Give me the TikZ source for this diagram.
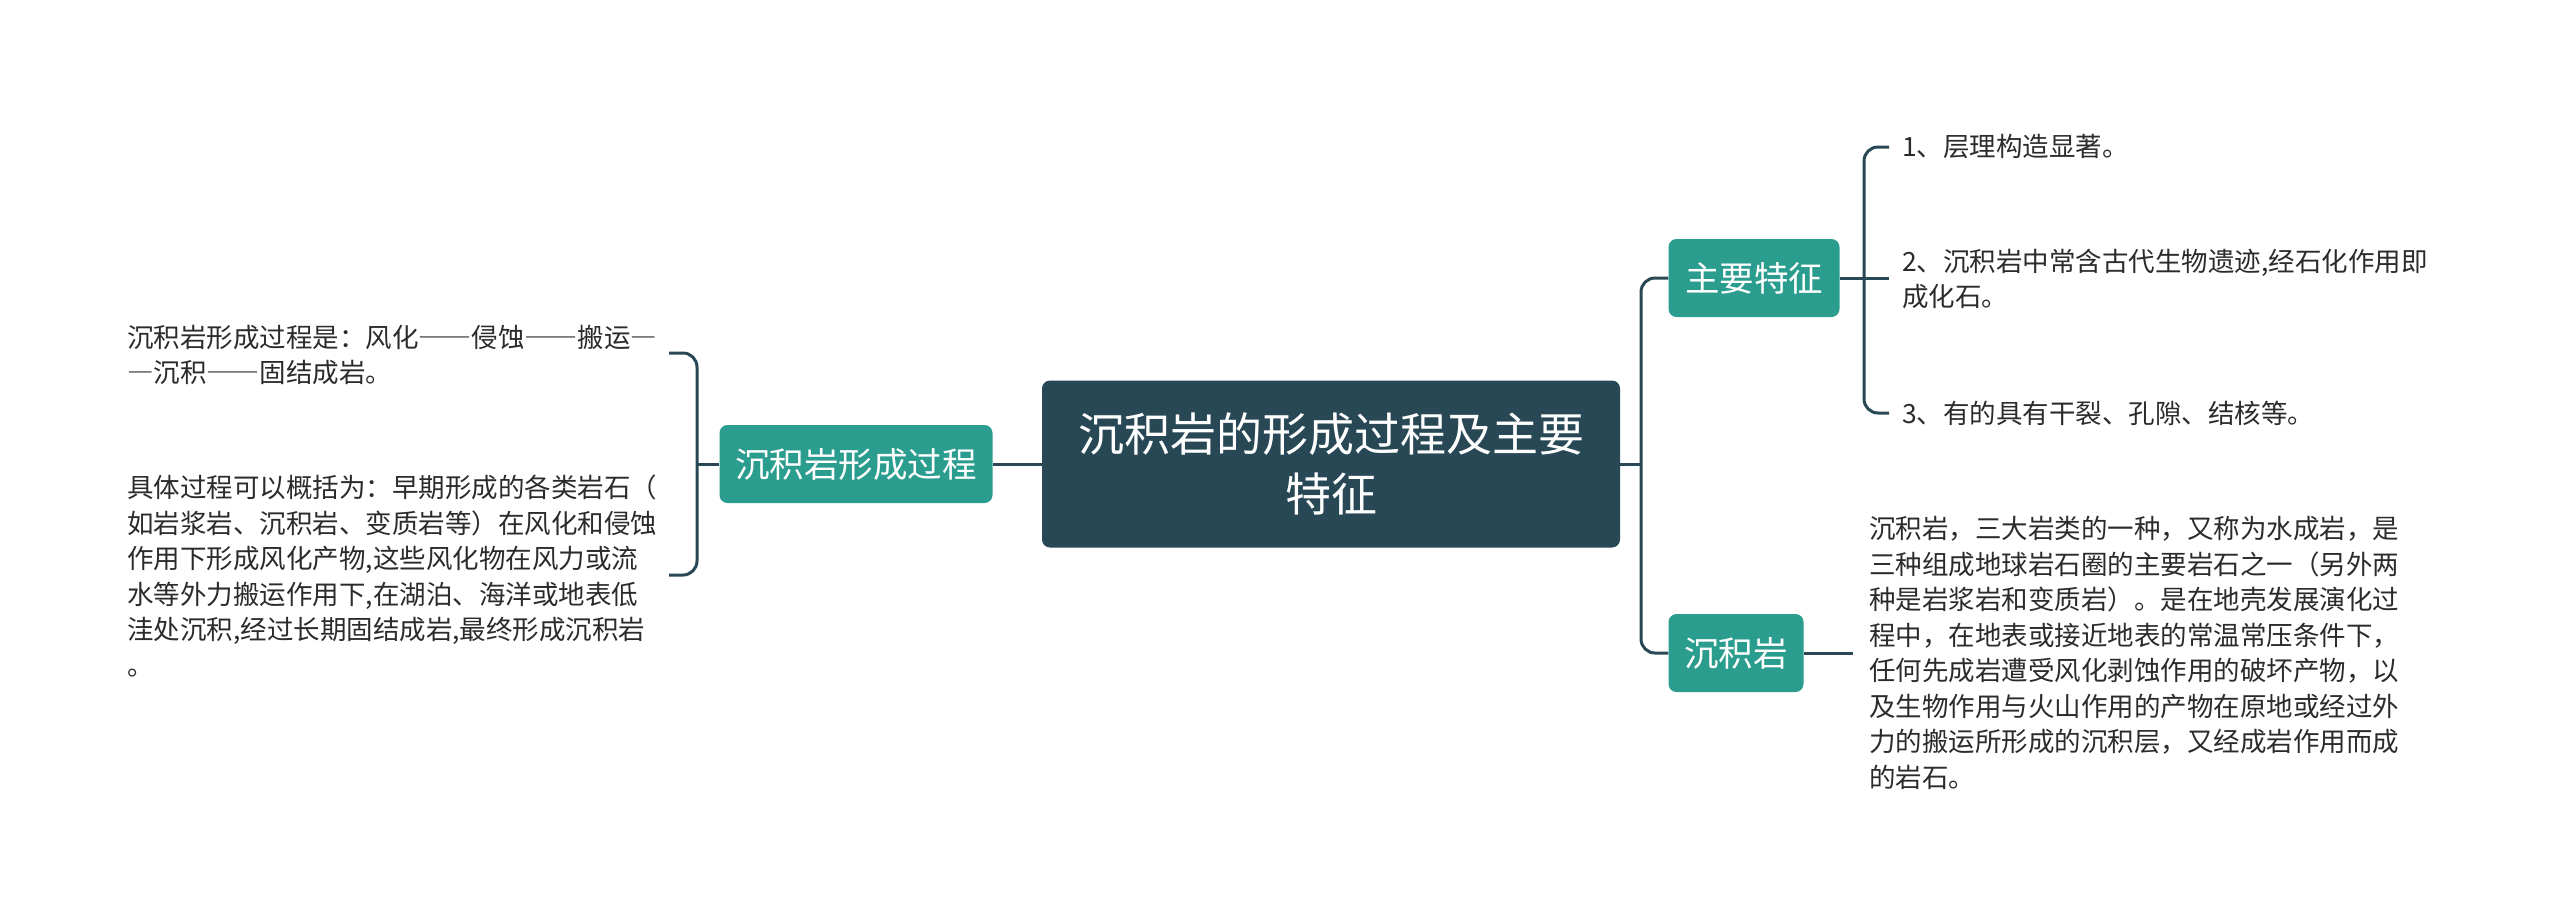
\documentclass[tikz,border=0pt]{standalone}
\usepackage{fontspec}
\setmainfont{Noto Sans CJK SC}
\newfontfamily\fwfont[RawFeature=+fwid]{Noto Sans CJK SC}
\newcommand{\zdash}{{\fwfont —}}
\definecolor{darkc}{HTML}{274854}
\definecolor{tealc}{HTML}{2A9D8F}
\definecolor{txtc}{HTML}{2B2B2B}
\tikzset{
  rootbox/.style={draw=none, fill=darkc, rounded corners=8pt, text=white, inner sep=0pt,
    minimum width=578pt, minimum height=167pt, align=center, font=\fontsize{46}{60}\selectfont},
  subbox/.style={draw=none, fill=tealc, rounded corners=8pt, text=white, inner sep=0pt,
    minimum height=78pt, align=center, font=\fontsize{34.5}{40}\selectfont},
  leaf/.style={anchor=west, inner sep=0pt, align=left, text=txtc, font=\fontsize{26.5}{35.5}\selectfont},
  conn/.style={draw=darkc, line width=3pt, rounded corners=14pt},
}
\begin{document}
\begin{tikzpicture}[x=1pt,y=-1pt]
\useasboundingbox (0,0) rectangle (2560,914);
% main nodes
\node[rootbox] (C) at (1331,464) {沉积岩的形成过程及主要\\特征};
\node[subbox, minimum width=273pt] (L) at (856,464) {沉积岩形成过程};
\node[subbox, minimum width=171pt] (F) at (1754,278) {主要特征};
\node[subbox, minimum width=135pt] (S) at (1736,653) {沉积岩};
% leaves
\node[leaf] (t1) at (127,355) {沉积岩形成过程是：风化\zdash\zdash 侵蚀\zdash\zdash 搬运\zdash\\\zdash 沉积\zdash\zdash 固结成岩。};
\node[leaf] (t2) at (127,576) {具体过程可以概括为：早期形成的各类岩石（\\如岩浆岩、沉积岩、变质岩等）在风化和侵蚀\\作用下形成风化产物,这些风化物在风力或流\\水等外力搬运作用下,在湖泊、海洋或地表低\\洼处沉积,经过长期固结成岩,最终形成沉积岩\\。};
\node[leaf] (f1) at (1902,147) {1、层理构造显著。};
\node[leaf] (f2) at (1902,279) {2、沉积岩中常含古代生物遗迹,经石化作用即\\成化石。};
\node[leaf] (f3) at (1902,413) {3、有的具有干裂、孔隙、结核等。};
\node[leaf] (s1) at (1869,653) {沉积岩，三大岩类的一种，又称为水成岩，是\\三种组成地球岩石圈的主要岩石之一（另外两\\种是岩浆岩和变质岩）。是在地壳发展演化过\\程中，在地表或接近地表的常温常压条件下，\\任何先成岩遭受风化剥蚀作用的破坏产物，以\\及生物作用与火山作用的产物在原地或经过外\\力的搬运所形成的沉积层，又经成岩作用而成\\的岩石。};
% junction coordinates
\coordinate (lj) at (697,464);
\coordinate (l1) at (669,353);
\coordinate (l2) at (669,575);
\coordinate (rj) at (1641,464);
\coordinate (fj) at (1864,278);
\coordinate (fe1) at (1889,147);
\coordinate (fe2) at (1889,278);
\coordinate (fe3) at (1889,413);
\coordinate (se) at (1853,653);
% connectors
\draw[conn] (C.west) -- (L.east);
\draw[conn] (L.west) -- (lj);
\draw[conn] (l1) -| (lj) |- (l2);
\draw[conn] (C.east) -- (rj);
\draw[conn] (F.west) -| (rj) |- (S.west);
\draw[conn] (F.east) -- (fe2);
\draw[conn] (fe1) -| (fj) |- (fe3);
\draw[conn] (S.east) -- (se);
\end{tikzpicture}
\end{document}
